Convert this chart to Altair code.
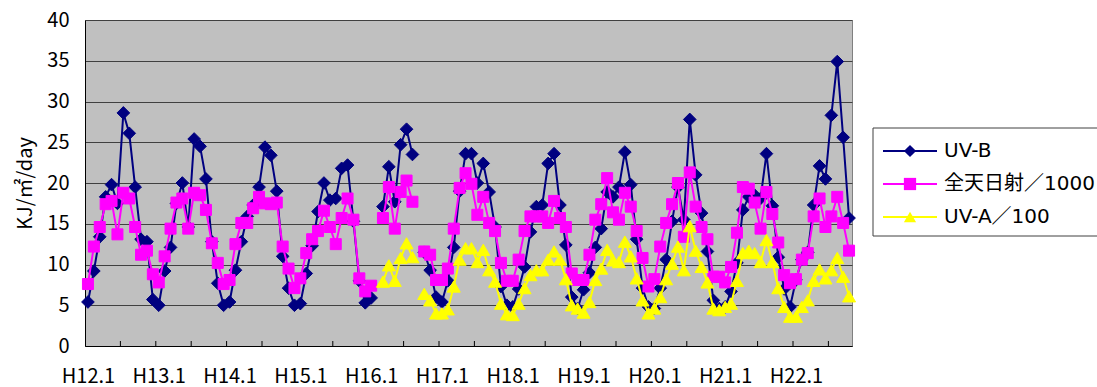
import altair as alt
import pandas as pd

# Monthly means, H12.1 .. H22.10 (130 months). None = no observation that month.
uv_b = [
    5.4, 9.2, 13.4, 18.3, 19.8, 17.5, 28.6, 26.1, 19.5, 13.1, 12.8, 5.7,      # H12
    5.0, 9.2, 12.1, 17.5, 20.0, 14.6, 25.4, 24.5, 20.5, 12.8, 7.7, 5.0,       # H13
    5.4, 9.3, 12.8, 15.9, 17.3, 19.5, 24.4, 23.4, 19.0, 11.0, 7.1, 5.0,       # H14
    5.2, 8.9, 12.3, 16.5, 20.0, 17.9, 18.1, 21.8, 22.2, 15.3, 8.0, 5.3,       # H15
    5.9, None, 17.1, 22.0, 17.7, 24.7, 26.6, 23.5, None, 11.5, 9.3, 6.0,      # H16
    5.4, 8.0, 12.1, 19.0, 23.6, 23.6, 20.0, 22.4, 18.9, 14.6, 7.3, 5.0,       # H17
    4.8, 7.0, 9.7, 14.0, 17.1, 17.3, 22.4, 23.6, 17.3, 12.4, 6.0, 4.6,        # H18
    6.9, 9.0, 12.1, 14.4, 18.9, 18.3, 19.5, 23.8, 19.8, 13.1, 7.1, 4.8,       # H19
    4.6, 7.1, 10.6, 15.3, 19.5, 15.5, 27.8, 21.0, 16.3, 11.6, 5.6, 4.6,       # H20
    4.8, 6.7, 10.2, 16.7, 18.3, 18.5, 18.1, 23.6, 17.2, 10.9, 7.0, 4.8,       # H21
    8.1, 10.6, 11.5, 17.3, 22.1, 20.5, 28.3, 34.9, 25.6, 15.7,                # H22
]

solar = [
    7.6, 12.2, 14.6, 17.4, 17.8, 13.7, 18.8, 18.1, 14.6, 11.2, 11.7, 8.8,     # H12
    7.8, 11.0, 14.4, 17.6, 18.1, 14.4, 18.8, 18.5, 16.7, 12.6, 10.2, 7.6,     # H13
    8.1, 12.5, 15.1, 15.1, 16.9, 18.3, 17.5, 17.4, 17.6, 12.2, 9.5, 7.1,      # H14
    8.3, 11.4, 13.1, 14.1, 16.6, 14.6, 12.5, 15.7, 18.1, 15.5, 8.3, 6.7,      # H15
    7.4, None, 15.7, 19.5, 14.4, 18.9, 20.3, 17.7, None, 11.6, 11.2, 8.1,     # H16
    8.1, 9.5, 14.4, 19.4, 21.2, 19.9, 16.1, 18.3, 15.1, 14.1, 10.2, 8.0,      # H17
    8.0, 10.6, 14.1, 15.9, 15.9, 15.9, 15.1, 17.8, 15.7, 14.6, 8.9, 8.1,      # H18
    8.1, 11.2, 15.5, 17.4, 20.6, 16.4, 15.5, 18.8, 17.1, 14.1, 10.8, 7.3,     # H19
    8.2, 12.2, 15.1, 17.4, 20.0, 13.4, 21.3, 17.1, 14.6, 13.1, 8.5, 8.5,      # H20
    7.8, 9.7, 13.9, 19.5, 19.3, 17.6, 14.4, 18.9, 16.2, 12.7, 8.7, 7.7,       # H21
    8.2, 10.6, 11.4, 15.9, 18.1, 14.6, 15.9, 18.3, 15.1, 11.7,                # H22
]

uv_a = [None] * 48 + [
    None, None, 7.9, 9.9, 8.0, 10.8, 12.6, 10.9, None, 6.4, 5.6, 4.0,         # H16
    4.0, 4.5, 7.3, 10.6, 12.0, 12.0, 10.3, 11.8, 9.3, 7.9, 5.2, 3.9,          # H17
    3.8, 5.2, 7.1, 8.7, 9.3, 9.3, 10.6, 11.6, 10.6, 8.2, 5.0, 4.6,            # H18
    4.1, 5.4, 8.1, 9.5, 11.8, 10.5, 10.3, 12.8, 11.0, 8.3, 5.6, 4.0,          # H19
    4.6, 6.0, 8.2, 10.1, 12.2, 9.3, 14.7, 11.7, 9.7, 7.8, 4.6, 4.4,           # H20
    4.8, 5.2, 8.0, 11.4, 11.7, 11.4, 10.3, 13.0, 10.3, 7.1, 4.8, 3.6,         # H21
    3.6, 4.8, 5.6, 8.0, 9.4, 8.3, 9.3, 10.8, 8.5, 6.1,                        # H22
]

series_names = ["UV-B", "全天日射／1000", "UV-A／100"]
first_year = 12          # Heisei 12
n_months = len(uv_b)

FONT = "Noto Sans CJK JP"
LEGEND_FONT = "DejaVu Sans, Noto Sans CJK JP"
COLORS = ["#000080", "#FF00FF", "#FFFF00"]
SHAPES = ["diamond", "square", "triangle-up"]
SIZES = [160, 121, 170]

W, H = 767, 326

rows = []
for name, vals in zip(series_names, [uv_b, solar, uv_a]):
    for i, v in enumerate(vals):
        rows.append({"idx": i, "series": name, "value": v})
df = pd.DataFrame(rows)

x_scale = alt.Scale(domain=[-0.5, n_months - 0.5], nice=False, zero=False)
y_scale = alt.Scale(domain=[0, 40], nice=False, zero=True)

x_axis = alt.Axis(
    values=[12 * k for k in range(n_months // 12 + 1)],
    labelExpr=f"'H' + ({first_year} + datum.value / 12) + '.1'",
    ticks=False, grid=False, title=None,
    domainColor="black", domainWidth=1,
    labelFont=FONT, labelFontSize=20, labelColor="black",
    labelPadding=20, labelFlush=False, labelOverlap=False,
)
y_axis = alt.Axis(
    values=list(range(0, 41, 5)),
    grid=True, gridColor="#404040", gridWidth=1,
    ticks=False, domainColor="black", domainWidth=1,
    labelFont=FONT, labelFontSize=20, labelColor="black", labelPadding=16,
    title="KJ/㎡/day", titleFont=FONT, titleFontSize=20,
    titleFontWeight="normal", titleColor="black", titlePadding=11,
)

X = alt.X("idx:Q", scale=x_scale, axis=x_axis)
Y = alt.Y("value:Q", scale=y_scale, axis=y_axis)

# minor category ticks every six months, pointing into the plot
tick_df = pd.DataFrame({"b": [6 * k - 0.5 for k in range(1, n_months // 6 + 1)]})
ticks = alt.Chart(tick_df).mark_rule(color="black", strokeWidth=1).encode(
    x=alt.X("b:Q", scale=x_scale, axis=x_axis),
    y=alt.value(H - 5), y2=alt.value(H),
)

series_layers = []
for name, color, shape, size in zip(series_names, COLORS, SHAPES, SIZES):
    sub = alt.Chart(df).transform_filter(alt.datum.series == name)
    line = sub.mark_line(color=color, strokeWidth=2,
                         invalid="break-paths-show-domains").encode(x=X, y=Y)
    pts = sub.transform_filter("isValid(datum.value)").mark_point(
        shape=shape, filled=True, color=color, size=size, opacity=1,
        stroke=color, strokeWidth=1,
    ).encode(x=X, y=Y)
    series_layers += [line, pts]

plot = alt.layer(ticks, *series_layers)

# legend panel to the right of the plot
leg_df = pd.DataFrame({"label": series_names, "row": [0, 1, 2]})
leg_y = alt.Y("row:Q", scale=alt.Scale(domain=[0, 2], range=[131, 197]), axis=None)
leg_color = alt.Color("label:N", scale=alt.Scale(domain=series_names, range=COLORS), legend=None)
leg_shape = alt.Shape("label:N", scale=alt.Scale(domain=series_names, range=SHAPES), legend=None)

box = alt.Chart(pd.DataFrame({"k": [0]})).mark_rect(
    fill="white", stroke="#404040", strokeWidth=1
).encode(x=alt.value(788), x2=alt.value(1030), y=alt.value(108), y2=alt.value(216))
leg_lines = alt.Chart(leg_df).mark_rule(strokeWidth=2).encode(
    x=alt.value(798), x2=alt.value(852), y=leg_y, color=leg_color)
leg_pts = alt.Chart(leg_df).mark_point(filled=True, size=150, opacity=1).encode(
    x=alt.value(825), y=leg_y, color=leg_color, shape=leg_shape)
leg_text = alt.Chart(leg_df).mark_text(
    align="left", baseline="middle", font=LEGEND_FONT, fontSize=20, color="black"
).encode(x=alt.value(859), y=leg_y, text="label:N")

legend = alt.layer(box, leg_lines, leg_pts, leg_text)

chart = alt.layer(plot, legend).resolve_scale(y="independent").properties(
    width=W, height=H,
    autosize=alt.AutoSizeParams(type="none"),
    padding={"left": 85, "top": 20, "right": 1097 - 85 - W, "bottom": 387 - 20 - H},
    background="white",
).configure_view(fill="#C0C0C0", stroke="#808080", strokeWidth=1)

chart.save("out.html", embed_options={"renderer": "svg", "actions": False})
